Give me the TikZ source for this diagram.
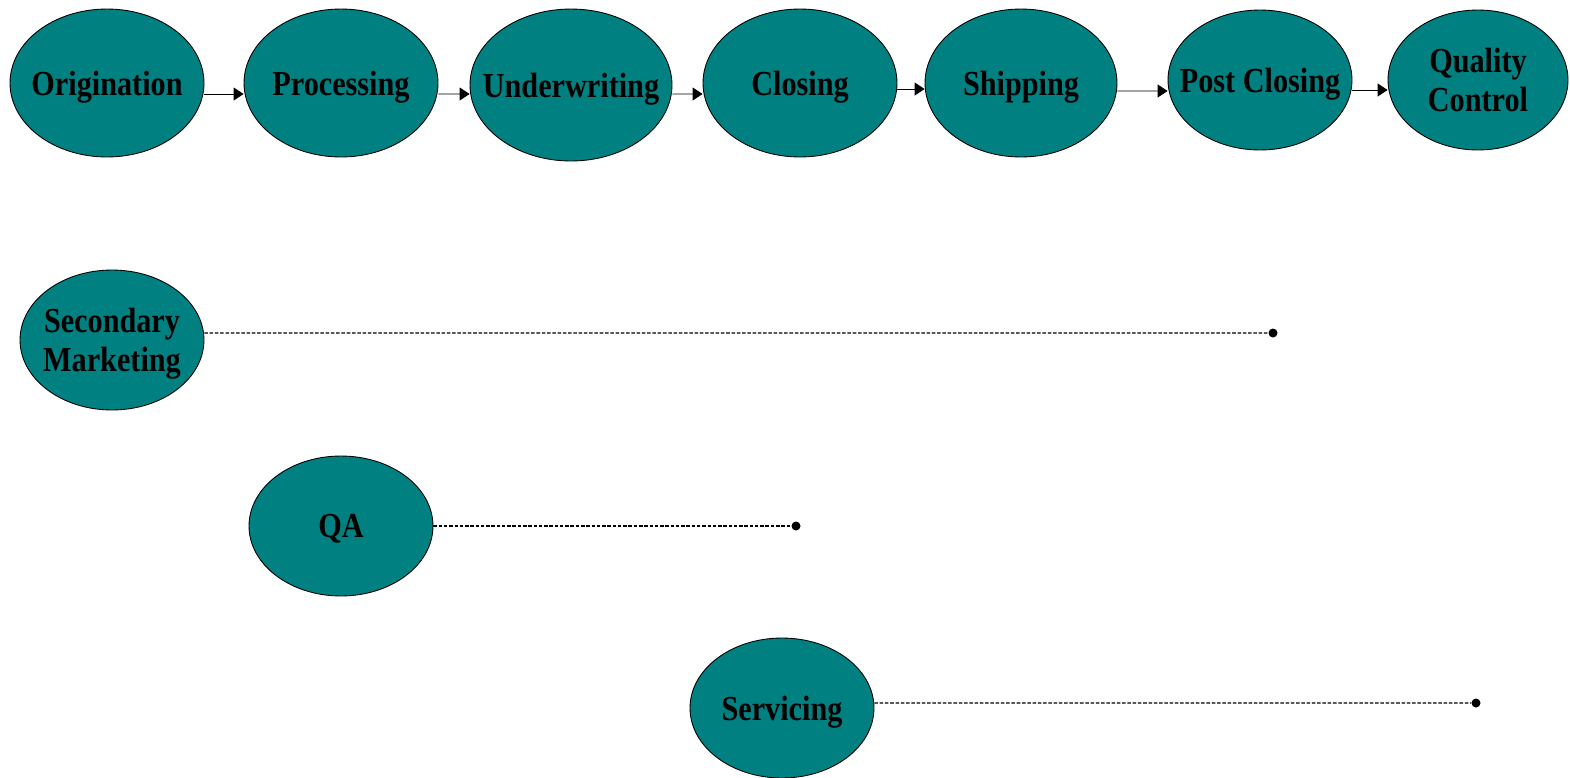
\documentclass[tikz,border=0pt]{standalone}
\usepackage{fontspec}
\setmainfont{Liberation Serif}[FakeStretch=0.86]
\usepackage{xcolor}
\usepackage{tikz}
\usetikzlibrary{arrows.meta, shapes.geometric}
\definecolor{tealfill}{RGB}{0,128,128}

\begin{document}
\begin{tikzpicture}[
  x=0.02cm, y=-0.02cm,
  every node/.style={font=\fontsize{20}{22}\selectfont\bfseries},
  stage/.style={ellipse, draw, line width=0.5pt, fill=tealfill, inner sep=-2cm, text depth=0pt, minimum width=3.88cm, minimum height=2.96cm, align=center},
  side/.style={minimum width=3.68cm, minimum height=2.8cm},
  arrow/.style={-{Triangle[length=2mm, width=2.6mm]}, line width=0.5pt},
  link/.style={line width=0.6pt, dash pattern=on 2pt off 1pt},
  dot/.style={circle, fill=black, inner sep=0pt, minimum size=1.8mm}
]
\useasboundingbox (0,0) rectangle (1570,778);

\node[stage] (orig) at (107,83) {Origination};
\node[stage] (proc) at (341,83) {Processing};
\node[stage, minimum width=4.04cm, minimum height=3.04cm] (under) at (571,85) {Underwriting};
\node[stage] (clos) at (800,83) {Closing};
\node[stage, minimum width=3.84cm] (ship) at (1021,83) {Shipping};
\node[stage, side] (post) at (1260,80) {Post Closing};
\node[stage, side, minimum width=3.6cm] (qc) at (1478,80) {Quality\\Control};

\node[stage, side] (sec) at (112,340) {Secondary\\Marketing};
\node[stage, side] (qa) at (341,526) {QA};
\node[stage, side] (serv) at (782,708) {Servicing};

\node[dot] (secend) at (1273,333) {};
\node[dot] (qaend) at (796,526) {};
\node[dot] (servend) at (1476,703) {};

\draw[arrow] ([yshift=-0.22cm]orig.east) -- ([yshift=-0.22cm]proc.west);
\draw[arrow] ([yshift=-0.22cm]proc.east) -- ([yshift=-0.18cm]under.west);
\draw[arrow] ([yshift=-0.18cm]under.east) -- ([yshift=-0.22cm]clos.west);
\draw[arrow] ([yshift=-0.12cm]clos.east) -- ([yshift=-0.12cm]ship.west);
\draw[arrow] ([yshift=-0.16cm]ship.east) -- ([yshift=-0.22cm]post.west);
\draw[arrow] ([yshift=-0.2cm]post.east) -- ([yshift=-0.2cm]qc.west);

\draw[link] ([yshift=0.14cm]sec.east) -- (secend);
\draw[link] (qa.east) -- (qaend);
\draw[link] ([yshift=0.1cm]serv.east) -- (servend);

\end{tikzpicture}
\end{document}
